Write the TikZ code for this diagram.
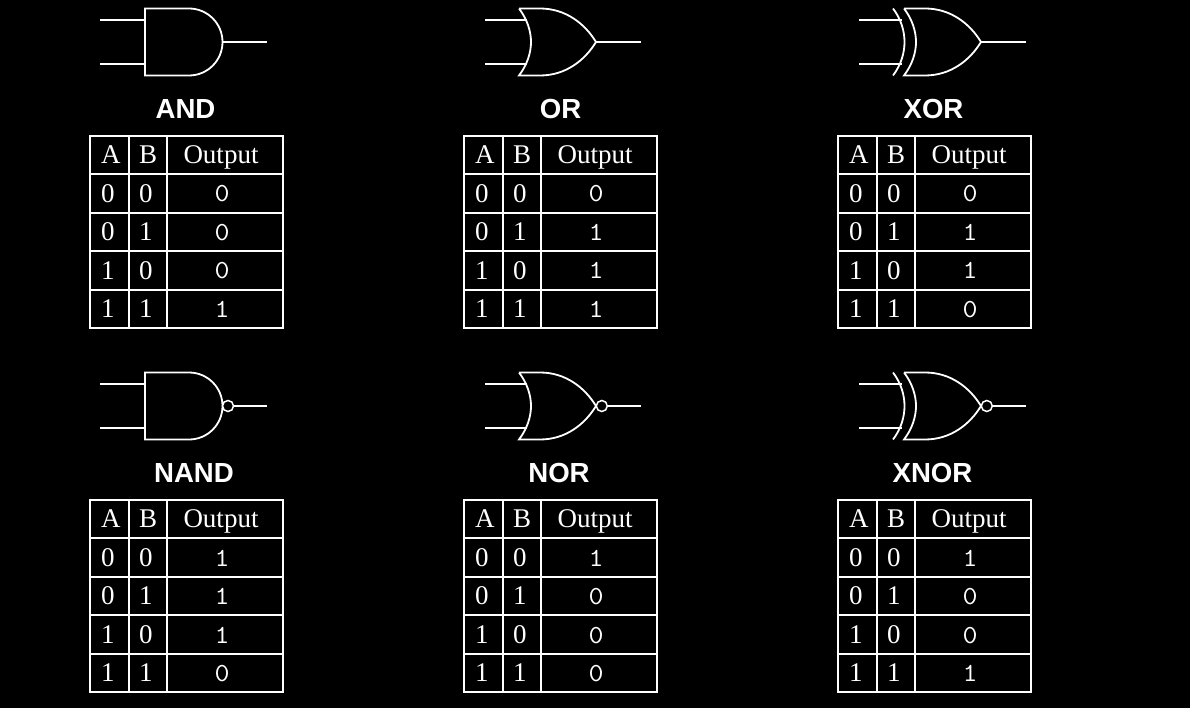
\documentclass[tikz,border=0pt]{standalone}
\usepackage{fontspec}
\setmainfont{Liberation Serif}
\setsansfont{Liberation Sans}
\setmonofont[FakeStretch=1.12]{Latin Modern Mono}
\tikzset{
  wire/.style={draw=white,line width=1.8pt,line cap=butt,line join=miter},
  lead/.style={draw=white,line width=2pt,line cap=butt},
  bubble/.style={circle,draw=white,line width=1.5pt,fill=black,minimum size=11pt,inner sep=0pt,outer sep=0pt},
  cell/.style={text=white,inner sep=0pt,outer sep=0pt,anchor=base west,font=\fontsize{27}{30}\selectfont},
  outhead/.style={text=white,inner sep=0pt,outer sep=0pt,anchor=base,font=\fontsize{27}{30}\selectfont},
  outcell/.style={text=white,inner sep=0pt,outer sep=0pt,anchor=base,font=\ttfamily\fontsize{26}{28}\selectfont},
  gatetitle/.style={text=white,inner sep=0pt,outer sep=0pt,anchor=base,font=\sffamily\bfseries\fontsize{27.6}{30}\selectfont},
}
\newcommand{\truthtab}[7]{%
  \begin{scope}[shift={(#2,#3)}]
    \draw[lead] (90,136) rectangle (283,328);
    \foreach \yy in {174,213,251,290}{\draw[lead] (90,\yy) -- (283,\yy);}
    \foreach \xx in {128.5,167}{\draw[lead] (\xx,136) -- (\xx,328);}
    \node[cell] (#1hA) at (101,163.6) {A};
    \node[cell] (#1hB) at (139,163.6) {B};
    \node[outhead] (#1hO) at (221,163.6) {Output};
    \node[cell] (#1a1) at (101,202.6) {0};\node[cell] (#1b1) at (139,202.6) {0};
    \node[cell] (#1a2) at (101,240.6) {0};\node[cell] (#1b2) at (139,240.6) {1};
    \node[cell] (#1a3) at (101,279.4) {1};\node[cell] (#1b3) at (139,279.4) {0};
    \node[cell] (#1a4) at (101,317.4) {1};\node[cell] (#1b4) at (139,317.4) {1};
    \node[outcell] (#1o1) at (222,202) {#4};
    \node[outcell] (#1o2) at (222,240.5) {#5};
    \node[outcell] (#1o3) at (222,279) {#6};
    \node[outcell] (#1o4) at (222,317.5) {#7};
  \end{scope}}
\newcommand{\andshape}[2]{%
  \begin{scope}[shift={(0,#2)}]
    \coordinate (#1i1) at (100,20);\coordinate (#1i2) at (100,64);
    \coordinate (#1e1) at (145,20);\coordinate (#1e2) at (145,64);
    \coordinate (#1t) at (222.5,42);\coordinate (#1x) at (267,42);
    \draw[wire] (145,8.5) -- (189,8.5) .. controls (207.5,8.5) and (222.5,23.5) .. (#1t)
      .. controls (222.5,60.5) and (207.5,75.5) .. (189,75.5) -- (145,75.5) -- cycle;
    \draw[lead] (#1i1) -- (#1e1);\draw[lead] (#1i2) -- (#1e2);
  \end{scope}}
\newcommand{\orshape}[5]{%
  \begin{scope}[shift={(#2,#3)}]
    \coordinate (#1i1) at (#4,20);\coordinate (#1i2) at (#4,64);
    \coordinate (#1e1) at (#5,20);\coordinate (#1e2) at (#5,64);
    \coordinate (#1t) at (596,42);\coordinate (#1x) at (640.5,42);
    \draw[wire] (519,8.5) -- (540,8.5) .. controls (566,8.5) and (585,24) .. (#1t)
      .. controls (585,60) and (566,75.5) .. (540,75.5) -- (519,75.5)
      .. controls (527,65) and (531,53) .. (531,42)
      .. controls (531,31) and (527,19) .. (519,8.5);
    \draw[lead] (#1i1) -- (#1e1);\draw[lead] (#1i2) -- (#1e2);
  \end{scope}}
\newcommand{\xorarc}[3]{%
  \begin{scope}[shift={(#2,#3)}]
    \coordinate (#1s) at (508,8.5);\coordinate (#1f) at (508,75.5);
    \draw[wire] (#1s) .. controls (516,19) and (519.5,31) .. (519.5,42)
      .. controls (519.5,53) and (516,65) .. (#1f);
  \end{scope}}
\begin{document}
\begin{tikzpicture}[x=1pt,y=-1pt]
\useasboundingbox (0,0) rectangle (1190,708);
\fill[black] (0,0) rectangle (1190,708);
\andshape{g1}{0}
\draw[lead] (g1t) -- (g1x);
\orshape{g2}{0}{0}{485}{527}
\draw[lead] (g2t) -- (g2x);
\orshape{g3}{385}{0}{474}{516.5}
\xorarc{g3}{385}{0}
\draw[lead] (g3t) -- (g3x);
\andshape{g4}{364}
\node[bubble] (g4b) at (228,406) {};
\draw[lead] (g4b) -- (g4x);
\orshape{g5}{0}{364}{485}{527}
\node[bubble] (g5b) at (601.8,406) {};
\draw[lead] (g5b) -- (g5x);
\orshape{g6}{385}{364}{474}{516.5}
\xorarc{g6}{385}{364}
\node[bubble] (g6b) at (986.8,406) {};
\draw[lead] (g6b) -- (g6x);
\node[gatetitle] (tAND) at (185.5,119) {AND};
\node[gatetitle] (tOR) at (560.5,119) {OR};
\node[gatetitle] (tXOR) at (933.5,119) {XOR};
\node[gatetitle] (tNAND) at (194,482.6) {NAND};
\node[gatetitle] (tNOR) at (559,482.6) {NOR};
\node[gatetitle] (tXNOR) at (932.5,482.6) {XNOR};
\truthtab{a}{0}{0}{0}{0}{0}{1}
\truthtab{o}{374}{0}{0}{1}{1}{1}
\truthtab{x}{748}{0}{0}{1}{1}{0}
\truthtab{na}{0}{364}{1}{1}{1}{0}
\truthtab{no}{374}{364}{1}{0}{0}{0}
\truthtab{xn}{748}{364}{1}{0}{0}{1}
\end{tikzpicture}
\end{document}
